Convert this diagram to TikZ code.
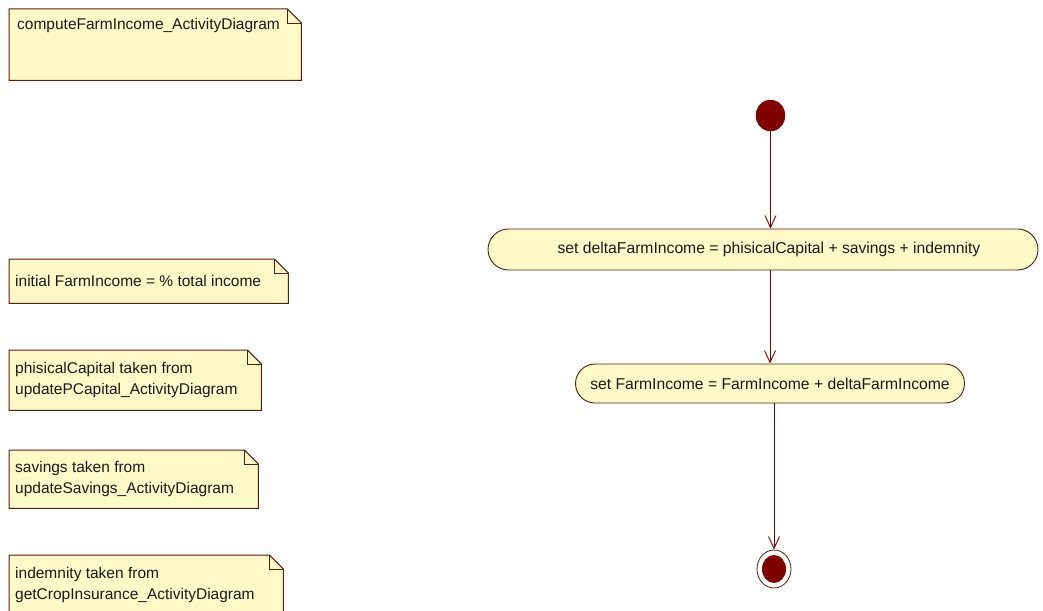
\documentclass[tikz,border=0pt]{standalone}
\usepackage{fontspec}
\setmainfont{Liberation Sans}
\usetikzlibrary{shapes.misc,shapes.geometric,arrows.meta}
\definecolor{notefill}{HTML}{FFF9C8}
\definecolor{noteline}{HTML}{5A1E10}
\definecolor{maroon}{HTML}{800000}
\definecolor{txt}{HTML}{1A1A1A}
\tikzset{
  notebox/.style={draw=none, fill=none, inner sep=0pt, anchor=north west},
  notetext/.style={align=left, inner sep=0pt, text=txt,
    font=\fontsize{15.5}{21}\selectfont},
  action/.style={rounded rectangle, draw=noteline, fill=notefill, line width=0.9pt,
    inner sep=0pt, text=txt, font=\fontsize{15.7}{18}\selectfont},
  startnode/.style={ellipse, fill=maroon, draw=maroon, inner sep=0pt,
    minimum width=29pt, minimum height=31pt},
  endouter/.style={ellipse, draw=noteline, fill=white, line width=0.8pt, inner sep=0pt,
    minimum width=34pt, minimum height=38pt},
  flow/.style={draw=maroon, line width=0.9pt, -{Straight Barb[length=12pt,width=11pt]}},
}
% #1 name, #2-#5 box, #6 text anchor, #7 anchor point on box, #8 shift, #9 text
\newcommand{\umlnote}[9]{%
  \node[notebox, minimum width=#4pt-#2pt, minimum height=#5pt-#3pt] (#1) at (#2,#3) {};
  \draw[noteline, fill=notefill, line width=1pt]
    (#1.north west) -- ([xshift=-14pt]#1.north east) -- ([yshift=-14pt]#1.north east)
    -- (#1.south east) -- (#1.south west) -- cycle;
  \draw[noteline, line width=0.8pt]
    ([xshift=-14pt]#1.north east) -- ([xshift=-14pt,yshift=-14pt]#1.north east)
    -- ([yshift=-14pt]#1.north east);
  \node[notetext, anchor=#6] (#1t) at ([shift={#8}]#1.#7) {#9};
}
\begin{document}
\begin{tikzpicture}[x=1pt,y=-1pt]
\useasboundingbox (0,0) rectangle (1043,610);
\fill[white] (0,0) rectangle (1043,610);

\umlnote{n1}{9}{9}{301}{80}{north west}{north west}{(8pt,-9pt)}{computeFarmIncome\_ActivityDiagram}
\umlnote{n2}{9}{259}{288}{303}{west}{west}{(6pt,0pt)}{initial FarmIncome = \% total income}
\umlnote{n3}{9}{350}{261}{410}{west}{west}{(6pt,0pt)}{phisicalCapital taken from\\updatePCapital\_ActivityDiagram}
\umlnote{n4}{9}{450}{258}{508}{west}{west}{(6pt,0pt)}{savings taken from\\updateSavings\_ActivityDiagram}
\umlnote{n5}{9}{555}{283}{614}{west}{west}{(6pt,0pt)}{indemnity taken from\\getCropInsurance\_ActivityDiagram}

\node[startnode] (init) at (770.5,115.5) {};
\node[action, minimum width=550pt, minimum height=41pt] (a1) at (763,249.5)
  {\hspace*{12pt}set deltaFarmIncome = phisicalCapital + savings + indemnity};
\node[action, minimum width=389pt, minimum height=39pt] (a2) at (770,383.5)
  {set FarmIncome = FarmIncome + deltaFarmIncome};
\node[endouter] (fin) at (774,569) {};
\node[ellipse, fill=maroon, inner sep=0pt, minimum width=24pt, minimum height=28pt] (finin) at (fin.center) {};

\draw[flow] (init.south) -- (init.south |- a1.north);
\draw[flow] (a1.south -| a2.north) -- (a2.north);
\draw[flow] (a2.south -| fin.north) -- (fin.north);
\end{tikzpicture}
\end{document}
